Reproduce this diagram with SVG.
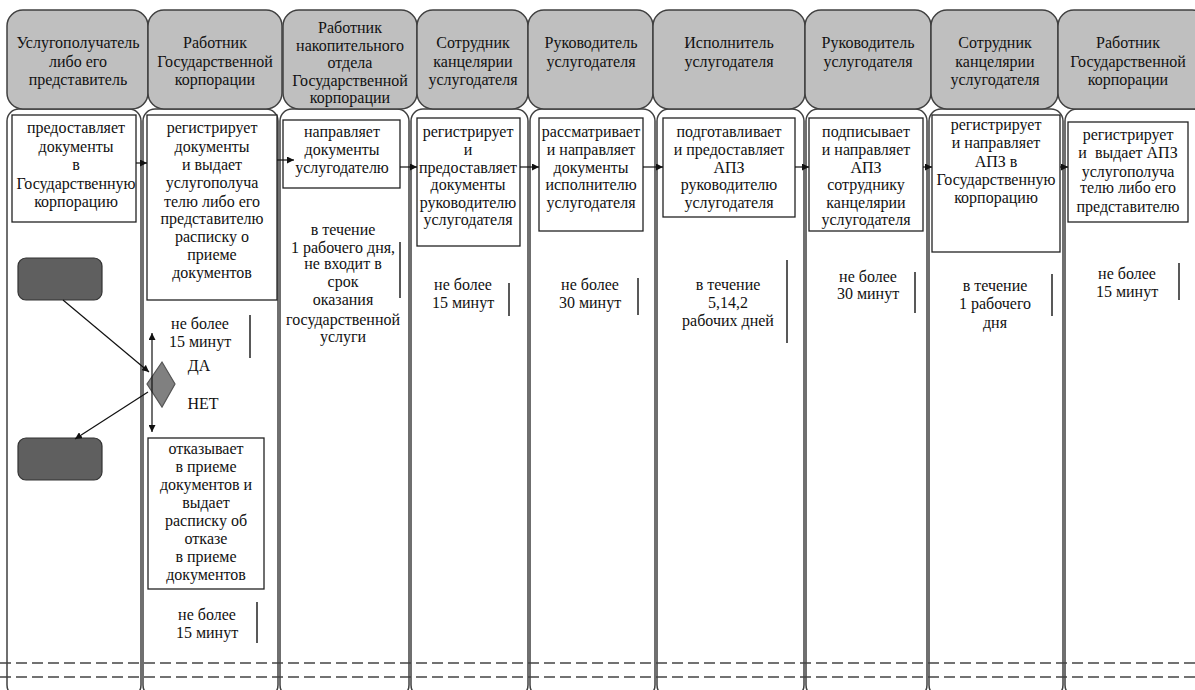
<svg xmlns="http://www.w3.org/2000/svg" width="1195" height="690" viewBox="0 0 1195 690">
<style>
.hdr{fill:#bfbfbf;stroke:#404040;stroke-width:1.5}
.lane{fill:#fff;stroke:#404040;stroke-width:1.5}
.box{fill:#fff;stroke:#222;stroke-width:1.3}
.t{font-family:'Liberation Serif','DejaVu Serif','Noto Serif',serif;font-size:16px;fill:#111;text-anchor:middle}
.c{stroke:#111;stroke-width:1.2;fill:none}
.bar{stroke:#222;stroke-width:1.5}
.dash{stroke:#444;stroke-width:1.3;stroke-dasharray:11 5}
.term{fill:#5f5f5f;stroke:#333;stroke-width:1.2}
</style>
<defs>
<marker id="ah" viewBox="0 0 10 10" refX="10" refY="5" markerWidth="7" markerHeight="7" orient="auto-start-reverse" markerUnits="userSpaceOnUse">
<path d="M0,0 L10,5 L0,10 z" fill="#111"/>
</marker>
</defs>
<rect width="1195" height="690" fill="#fff"/>

<g id="lanes">
<rect class="lane" x="7" y="109" width="134" height="588" rx="12"/>
<rect class="lane" x="143" y="109" width="135" height="588" rx="12"/>
<rect class="lane" x="280" y="109" width="129" height="588" rx="12"/>
<rect class="lane" x="411" y="109" width="117" height="588" rx="12"/>
<rect class="lane" x="530" y="109" width="125" height="588" rx="12"/>
<rect class="lane" x="657" y="109" width="147" height="588" rx="12"/>
<rect class="lane" x="806" y="109" width="121" height="588" rx="12"/>
<rect class="lane" x="929" y="109" width="134" height="588" rx="12"/>
<rect class="lane" x="1065" y="109" width="140" height="588" rx="12"/>
</g>

<g font-family="Liberation Serif, DejaVu Serif, serif">
<g id="header1"><rect class="hdr" x="7" y="10" width="141" height="99" rx="16"/>
<text class="t"><tspan x="78" y="48">Услугополучатель</tspan><tspan x="78" y="66.5">либо его</tspan><tspan x="78" y="85">представитель</tspan></text></g>
<g id="header2"><rect class="hdr" x="148" y="10" width="134" height="99" rx="16"/>
<text class="t"><tspan x="215" y="48">Работник</tspan><tspan x="215" y="66.5">Государственной</tspan><tspan x="215" y="85">корпорации</tspan></text></g>
<g id="header3"><rect class="hdr" x="283" y="10" width="134" height="99" rx="16"/>
<text class="t"><tspan x="350" y="33">Работник</tspan><tspan x="350" y="50.5">накопительного</tspan><tspan x="350" y="68">отдела</tspan><tspan x="350" y="85.5">Государственной</tspan><tspan x="350" y="103">корпорации</tspan></text></g>
<g id="header4"><rect class="hdr" x="417" y="10" width="111" height="99" rx="16"/>
<text class="t"><tspan x="473" y="48">Сотрудник</tspan><tspan x="473" y="66.5">канцелярии</tspan><tspan x="473" y="85">услугодателя</tspan></text></g>
<g id="header5"><rect class="hdr" x="528" y="10" width="125" height="99" rx="16"/>
<text class="t"><tspan x="591" y="48">Руководитель</tspan><tspan x="591" y="66.5">услугодателя</tspan></text></g>
<g id="header6"><rect class="hdr" x="653" y="10" width="152" height="99" rx="16"/>
<text class="t"><tspan x="729" y="48">Исполнитель</tspan><tspan x="729" y="66.5">услугодателя</tspan></text></g>
<g id="header7"><rect class="hdr" x="805" y="10" width="126" height="99" rx="16"/>
<text class="t"><tspan x="868" y="48">Руководитель</tspan><tspan x="868" y="66.5">услугодателя</tspan></text></g>
<g id="header8"><rect class="hdr" x="931" y="10" width="127" height="99" rx="16"/>
<text class="t"><tspan x="995" y="48">Сотрудник</tspan><tspan x="995" y="66.5">канцелярии</tspan><tspan x="995" y="85">услугодателя</tspan></text></g>
<g id="header9"><rect class="hdr" x="1058" y="10" width="150" height="99" rx="16"/>
<text class="t"><tspan x="1128" y="48">Работник</tspan><tspan x="1128" y="66.5">Государственной</tspan><tspan x="1128" y="85">корпорации</tspan></text></g>

<g id="box1"><rect class="box" x="12" y="115" width="124" height="107"/>
<text class="t"><tspan x="76" y="133">предоставляет</tspan><tspan x="76" y="151.5">документы</tspan><tspan x="76" y="170">в</tspan><tspan x="76" y="188.5">Государственную</tspan><tspan x="76" y="207">корпорацию</tspan></text></g>

<g id="box2"><rect class="box" x="147" y="115" width="130" height="185"/>
<text class="t"><tspan x="212" y="133">регистрирует</tspan><tspan x="212" y="151.5">документы</tspan><tspan x="212" y="170">и выдает</tspan><tspan x="212" y="188">услугополуча</tspan><tspan x="212" y="206.5">телю либо его</tspan><tspan x="212" y="224">представителю</tspan><tspan x="212" y="242">расписку о</tspan><tspan x="212" y="260">приеме</tspan><tspan x="212" y="278">документов</tspan></text></g>

<g id="box3"><rect class="box" x="283" y="120" width="117" height="68"/>
<text class="t"><tspan x="342" y="137">направляет</tspan><tspan x="342" y="155">документы</tspan><tspan x="342" y="173">услугодателю</tspan></text></g>

<g id="box4"><rect class="box" x="417" y="118" width="103" height="128"/>
<text class="t"><tspan x="468" y="137">регистрирует</tspan><tspan x="468" y="155">и</tspan><tspan x="468" y="172.5">предоставляет</tspan><tspan x="468" y="190">документы</tspan><tspan x="468" y="207.5">руководителю</tspan><tspan x="468" y="225">услугодателя</tspan></text></g>

<g id="box5"><rect class="box" x="539" y="118" width="104" height="113"/>
<text class="t"><tspan x="591" y="137">рассматривает</tspan><tspan x="591" y="155">и направляет</tspan><tspan x="591" y="172.5">документы</tspan><tspan x="591" y="190">исполнителю</tspan><tspan x="591" y="207.5">услугодателя</tspan></text></g>

<g id="box6"><rect class="box" x="663" y="118" width="132" height="99"/>
<text class="t"><tspan x="729" y="137">подготавливает</tspan><tspan x="729" y="155">и предоставляет</tspan><tspan x="729" y="172.5">АПЗ</tspan><tspan x="729" y="190">руководителю</tspan><tspan x="729" y="207.5">услугодателя</tspan></text></g>

<g id="box7"><rect class="box" x="809" y="118" width="114" height="113"/>
<text class="t"><tspan x="866" y="137">подписывает</tspan><tspan x="866" y="155">и направляет</tspan><tspan x="866" y="172.5">АПЗ</tspan><tspan x="866" y="190">сотруднику</tspan><tspan x="866" y="207.5">канцелярии</tspan><tspan x="866" y="225">услугодателя</tspan></text></g>

<g id="box8"><rect class="box" x="932" y="115" width="128" height="137"/>
<text class="t"><tspan x="996" y="130">регистрирует</tspan><tspan x="996" y="148">и направляет</tspan><tspan x="996" y="167">АПЗ в</tspan><tspan x="996" y="185">Государственную</tspan><tspan x="996" y="203">корпорацию</tspan></text></g>

<g id="box9"><rect class="box" x="1068" y="122" width="120" height="100"/>
<text class="t"><tspan x="1128" y="140">регистрирует</tspan><tspan x="1128" y="158" xml:space="preserve">и  выдает АПЗ</tspan><tspan x="1128" y="176.5">услугополуча</tspan><tspan x="1128" y="193">телю либо его</tspan><tspan x="1128" y="212">представителю</tspan></text></g>

<g id="start"><rect class="term" x="18" y="258" width="84" height="42" rx="8"/></g>
<g id="end"><rect class="term" x="18" y="438" width="84" height="42" rx="8"/></g>
<g id="decision"><polygon points="162,362 175,384 162,407 147,384" fill="#808080" stroke="#555" stroke-width="1.2"/></g>

<g id="box-refuse"><rect class="box" x="148" y="438" width="116" height="151"/>
<text class="t"><tspan x="206" y="454">отказывает</tspan><tspan x="206" y="472">в приеме</tspan><tspan x="206" y="490">документов и</tspan><tspan x="206" y="508">выдает</tspan><tspan x="206" y="526">расписку об</tspan><tspan x="206" y="544">отказе</tspan><tspan x="206" y="562">в приеме</tspan><tspan x="206" y="580">документов</tspan></text></g>

<g id="labels">
<text class="t"><tspan x="200" y="329">не более</tspan><tspan x="200" y="347">15 минут</tspan></text>
<text class="t" x="199" y="371">ДА</text>
<text class="t" x="203" y="409">НЕТ</text>
<text class="t"><tspan x="207" y="620">не более</tspan><tspan x="207" y="638">15 минут</tspan></text>
<text class="t"><tspan x="343" y="235">в течение</tspan><tspan x="343" y="253">1 рабочего дня,</tspan><tspan x="343" y="268.5">не входит в</tspan><tspan x="343" y="287">срок</tspan><tspan x="343" y="305">оказания</tspan><tspan x="343" y="325">государственной</tspan><tspan x="343" y="342">услуги</tspan></text>
<text class="t"><tspan x="463" y="290">не более</tspan><tspan x="463" y="308">15 минут</tspan></text>
<text class="t"><tspan x="590" y="290">не более</tspan><tspan x="590" y="308">30 минут</tspan></text>
<text class="t"><tspan x="728" y="290">в течение</tspan><tspan x="728" y="308">5,14,2</tspan><tspan x="728" y="326">рабочих дней</tspan></text>
<text class="t"><tspan x="868" y="282">не более</tspan><tspan x="868" y="299">30 минут</tspan></text>
<text class="t"><tspan x="995" y="291">в течение</tspan><tspan x="995" y="309">1 рабочего</tspan><tspan x="995" y="328">дня</tspan></text>
<text class="t"><tspan x="1127" y="279">не более</tspan><tspan x="1127" y="297">15 минут</tspan></text>
</g>
</g>

<g id="bars">
<line class="bar" x1="250" y1="315" x2="250" y2="358"/>
<line class="bar" x1="257" y1="602" x2="257" y2="643"/>
<line class="bar" x1="400" y1="242" x2="400" y2="298"/>
<line class="bar" x1="509" y1="283" x2="509" y2="316"/>
<line class="bar" x1="638" y1="278" x2="638" y2="315"/>
<line class="bar" x1="787" y1="260" x2="787" y2="343"/>
<line class="bar" x1="915" y1="272" x2="915" y2="313"/>
<line class="bar" x1="1052" y1="274" x2="1052" y2="316"/>
<line class="bar" x1="1179" y1="263" x2="1179" y2="300"/>
</g>

<g id="connectors">
<line class="c" x1="136" y1="163" x2="147" y2="163" marker-end="url(#ah)"/>
<line class="c" x1="277" y1="160" x2="294" y2="160" marker-end="url(#ah)"/>
<line class="c" x1="400" y1="167" x2="417" y2="167" marker-end="url(#ah)"/>
<line class="c" x1="520" y1="167" x2="539" y2="167" marker-end="url(#ah)"/>
<line class="c" x1="643" y1="167" x2="663" y2="167" marker-end="url(#ah)"/>
<line class="c" x1="795" y1="167" x2="809" y2="167" marker-end="url(#ah)"/>
<line class="c" x1="923" y1="167" x2="932" y2="167" marker-end="url(#ah)"/>
<line class="c" x1="1060" y1="167" x2="1068" y2="167" marker-end="url(#ah)"/>
<line class="c" x1="63" y1="300" x2="149" y2="372" marker-end="url(#ah)"/>
<line class="c" x1="148" y1="392" x2="75" y2="439" marker-end="url(#ah)"/>
<line class="c" x1="152" y1="333" x2="152" y2="432" marker-start="url(#ah)" marker-end="url(#ah)"/>
</g>

<g id="dashes">
<line class="dash" x1="0" y1="663" x2="1195" y2="663"/>
<line class="dash" x1="0" y1="677" x2="1195" y2="677"/>
</g>
</svg>
